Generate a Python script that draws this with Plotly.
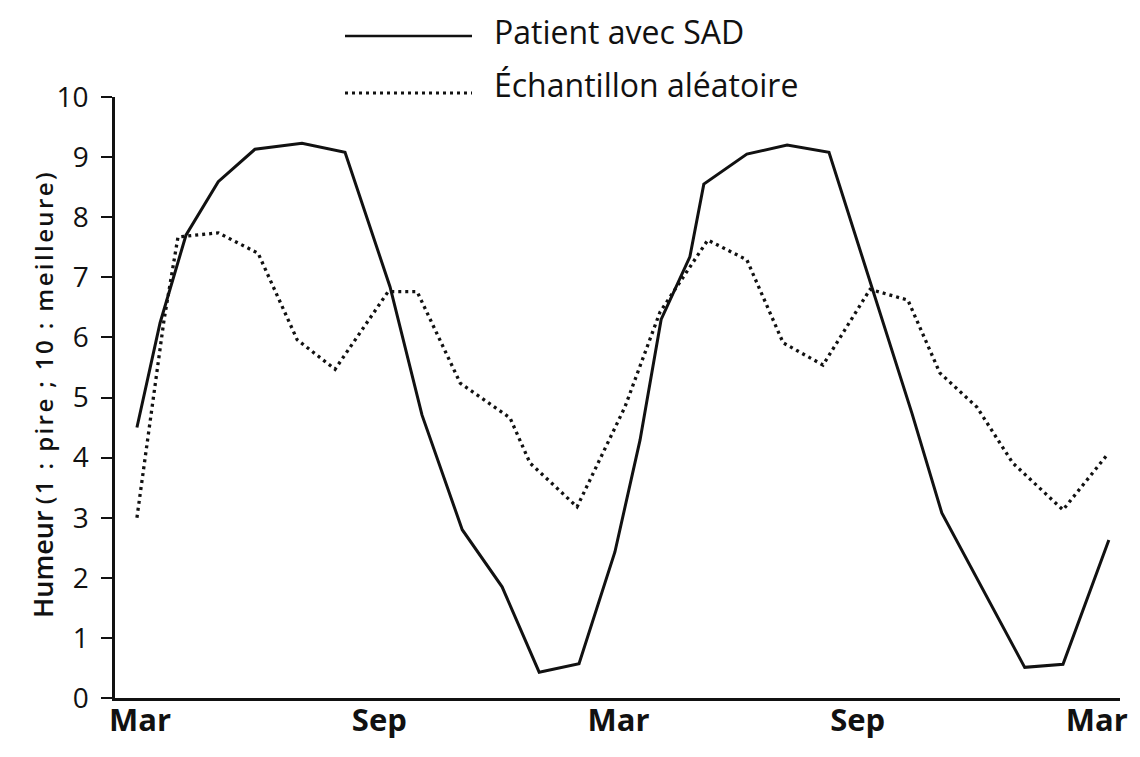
import plotly.graph_objects as go

# Months since the first March (0 = Mar, 6 = Sep, 12 = Mar, ...)
months_sad = [-0.08, 0.50, 1.15, 1.96, 2.88, 4.06, 5.14, 6.27, 7.07, 8.08, 9.08,
              10.01, 11.01, 11.91, 12.54, 13.07, 13.79, 14.14, 15.22, 16.23,
              17.28, 18.33, 19.36, 20.11, 22.19, 23.15, 24.30]
mood_sad = [4.50, 6.24, 7.70, 8.59, 9.13, 9.23, 9.08, 6.84, 4.71, 2.80, 1.85,
            0.43, 0.57, 2.43, 4.29, 6.30, 7.34, 8.55, 9.05, 9.20,
            9.08, 6.89, 4.74, 3.08, 0.51, 0.56, 2.63]

months_rand = [-0.08, 0.60, 0.95, 1.96, 2.96, 3.94, 4.89, 6.22, 6.95, 8.03, 9.28,
               9.78, 10.96, 12.16, 13.04, 14.24, 15.22, 16.13, 17.13, 18.31,
               19.26, 20.06, 20.99, 21.89, 23.15, 24.25]
mood_rand = [3.00, 6.29, 7.67, 7.74, 7.40, 5.96, 5.47, 6.76, 6.76, 5.24, 4.66,
             3.91, 3.18, 4.84, 6.42, 7.62, 7.29, 5.91, 5.54, 6.80,
             6.62, 5.41, 4.84, 3.91, 3.13, 4.04]

tick_months = [0, 6, 12, 18, 24]
tick_labels = ["Mar", "Sep", "Mar", "Sep", "Mar"]
y_ticks = list(range(0, 11))
series_names = ["Patient avec SAD", "Échantillon aléatoire"]
y_title = ("<span style='font-size:27px'>Humeur</span> "
           "<span style='font-size:24px;letter-spacing:2.4px'>(1 : pire ; 10 : meilleure)</span>")

FONT = "Open Sans"
INK = "#111111"
DOT = "3px,4px"

fig = go.Figure()
fig.add_trace(go.Scatter(x=months_sad, y=mood_sad, mode="lines",
                         name=series_names[0], showlegend=False,
                         line=dict(color=INK, width=3)))
fig.add_trace(go.Scatter(x=months_rand, y=mood_rand, mode="lines",
                         name=series_names[1], showlegend=False,
                         line=dict(color=INK, width=3.3, dash=DOT)))

# page-pixel helpers (plot area spans x 115..1120, y 97..698 on the page)
def px_x(p):
    return (p - 115) / 1005.0

def px_y(p):
    return (698 - p) / 601.0

# Custom legend (long line samples as in the original)
fig.add_shape(type="line", xref="paper", yref="paper",
              x0=px_x(345), x1=px_x(472), y0=px_y(36), y1=px_y(36),
              line=dict(color=INK, width=2.5))
fig.add_shape(type="line", xref="paper", yref="paper",
              x0=px_x(345), x1=px_x(472), y0=px_y(93), y1=px_y(93),
              line=dict(color=INK, width=2.8, dash=DOT))
fig.add_annotation(xref="paper", yref="paper", x=px_x(492), y=px_y(31),
                   xanchor="left", yanchor="middle", showarrow=False,
                   text=series_names[0],
                   font=dict(family=FONT, size=32, color=INK))
fig.add_annotation(xref="paper", yref="paper", x=px_x(492), y=px_y(84),
                   xanchor="left", yanchor="middle", showarrow=False,
                   text=series_names[1],
                   font=dict(family=FONT, size=32, color=INK))
fig.add_annotation(xref="paper", yref="paper", x=px_x(42), y=px_y(394),
                   xanchor="center", yanchor="middle", showarrow=False,
                   textangle=-90, text=y_title,
                   font=dict(family=FONT, size=24, color=INK, weight=600))

fig.update_layout(
    width=1124, height=741,
    margin=dict(l=107, r=12, t=89, b=51),
    paper_bgcolor="white", plot_bgcolor="white",
    font=dict(family=FONT, color=INK),
    xaxis=dict(range=[-0.63, 24.58], tickvals=tick_months, ticktext=tick_labels,
               automargin=False,
               showgrid=False, zeroline=False, showline=True, linecolor=INK,
               linewidth=2.5, ticks="", ticklabelstandoff=-7,
               tickfont=dict(family=FONT, size=31, color=INK, weight=700)),
    yaxis=dict(range=[0, 10], tickvals=y_ticks, showgrid=False, zeroline=False,
               automargin=False,
               showline=True, linecolor=INK, linewidth=2.5, ticks="outside",
               ticklen=11, tickwidth=1.5, tickcolor=INK, ticklabelstandoff=7,
               tickfont=dict(family=FONT, size=28, color=INK, weight=500)),
)

fig.write_html("out.html")
